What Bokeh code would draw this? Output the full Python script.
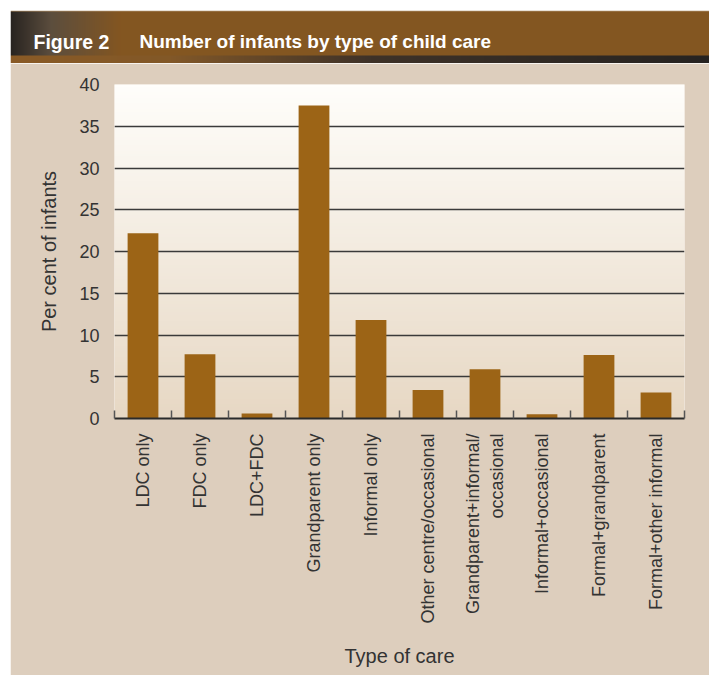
import numpy as np
from bokeh.plotting import figure
from bokeh.models import Range1d, FixedTicker, Label, Spacer
from bokeh.layouts import column, row
from bokeh.embed import file_html
from bokeh.resources import INLINE

# ---- data ----
categories = ["LDC only", "FDC only", "LDC+FDC", "Grandparent only", "Informal only",
              "Other centre/occasional", "Grandparent+informal/\noccasional",
              "Informal+occasional", "Formal+grandparent", "Formal+other informal"]
percent = [22.2, 7.7, 0.6, 37.5, 11.8, 3.4, 5.9, 0.5, 7.6, 3.1]
y_ticks = [0, 5, 10, 15, 20, 25, 30, 35, 40]
title_num = "Figure 2"
title_text = "Number of infants by type of child care"
x_title = "Type of care"
y_title = "Per cent of infants"

FONT = "Liberation Sans"
BAR = "#9c6416"
PANEL = "#ddcebd"
TXT = "#333333"

# ---- header band ----
HW, HH = 699, 53
cols = np.arange(HW)
def interp_rgb(xs, stops):
    px = [s[0] for s in stops]
    return np.stack([np.interp(xs, px, [s[1][k] for s in stops]) for k in range(3)], axis=-1)

main_band = interp_rgb(cols, [(0, (40, 36, 33)), (40, (92, 78, 62)), (110, (132, 86, 33)), (HW, (131, 86, 34))])
strip_band = interp_rgb(cols, [(0, (138, 91, 38)), (160, (130, 88, 40)), (360, (62, 50, 40)), (HW, (38, 35, 33))])
rgb = np.zeros((HH, HW, 3))
rgb[0] = np.array([168, 135, 95])
rgb[1:45] = main_band[None, :, :]
rgb[45:] = strip_band[None, :, :]
rgba = np.zeros((HH, HW, 4), dtype=np.uint8)
rgba[..., :3] = rgb.astype(np.uint8)
rgba[..., 3] = 255
img = rgba[::-1].copy().view(dtype=np.uint32).reshape((HH, HW))

h = figure(width=HW, height=HH, x_range=Range1d(0, HW), y_range=Range1d(0, HH),
           output_backend="svg", toolbar_location=None, min_border=0)
h.frame_align = False
h.axis.visible = False
h.grid.visible = False
h.outline_line_color = None
h.background_fill_color = "white"
h.border_fill_color = "white"
h.image_rgba(image=[img], x=0, y=0, dw=HW, dh=HH)
h.add_layout(Label(x=23, y=HH - 31, text=title_num, text_color="white", text_font=FONT,
                   text_font_style="bold", text_font_size="19.5px", text_baseline="alphabetic"))
h.add_layout(Label(x=129, y=HH - 31, text=title_text, text_color="white", text_font=FONT,
                   text_font_style="bold", text_font_size="19px", text_baseline="alphabetic"))

# ---- main chart ----
n = len(categories)
xs = [i + 0.5 for i in range(n)]
p = figure(width=699, height=612, x_range=Range1d(0, n), y_range=Range1d(0, 40),
           output_backend="svg", toolbar_location=None,
           min_border_left=104, min_border_right=25, min_border_top=21, min_border_bottom=257)
p.frame_align = False
p.border_fill_color = PANEL
p.background_fill_color = "#efe6da"
p.outline_line_color = None

# plot-area gradient (white top -> beige bottom)
g = np.linspace(0, 1, 120)[:, None]
top = np.array([255, 254, 251]); bot = np.array([231, 216, 196])
grad = np.zeros((120, 1, 4), dtype=np.uint8)
grad[..., :3] = (bot + (top - bot) * g[..., None]).astype(np.uint8)
grad[..., 3] = 255
gimg = grad.view(dtype=np.uint32).reshape((120, 1))
gr = p.image_rgba(image=[gimg], x=0, y=0, dw=n, dh=40)
gr.level = "image"

p.vbar(x=xs, top=percent, width=0.54, fill_color=BAR, line_color=None)

# axes
p.xaxis.ticker = FixedTicker(ticks=xs, minor_ticks=list(range(n + 1)))
p.xaxis.major_label_overrides = {x: c for x, c in zip(xs, categories)}
p.xaxis.major_tick_line_color = None
p.xaxis.minor_tick_line_color = "#555555"
p.xaxis.minor_tick_line_width = 1.5
p.xaxis.minor_tick_in = 8
p.xaxis.minor_tick_out = 0
p.xaxis.axis_line_color = "#2a2a2a"
p.xaxis.axis_line_width = 2
p.xaxis.major_label_orientation = np.pi / 2
p.xaxis.major_label_standoff = 9
p.xaxis.major_label_text_font = FONT
p.xaxis.major_label_text_font_size = "18px"
p.xaxis.major_label_text_color = TXT
p.xaxis.axis_label = x_title
p.xaxis.axis_label_text_font = FONT
p.xaxis.axis_label_text_font_size = "20px"
p.xaxis.axis_label_text_font_style = "normal"
p.xaxis.axis_label_text_color = TXT
p.xaxis.axis_label_standoff = 18
p.xgrid.visible = False

p.yaxis.ticker = FixedTicker(ticks=y_ticks)
p.yaxis.axis_line_color = None
p.yaxis.major_tick_line_color = None
p.yaxis.minor_tick_line_color = None
p.yaxis.major_label_standoff = 9
p.yaxis.major_label_text_font = FONT
p.yaxis.major_label_text_font_size = "18px"
p.yaxis.major_label_text_color = TXT
p.yaxis.axis_label = y_title
p.yaxis.axis_label_text_font = FONT
p.yaxis.axis_label_text_font_size = "20px"
p.yaxis.axis_label_text_font_style = "normal"
p.yaxis.axis_label_text_color = TXT
p.yaxis.axis_label_standoff = 16
p.ygrid.ticker = FixedTicker(ticks=y_ticks)
p.ygrid.grid_line_color = "#3a3a3a"
p.ygrid.grid_line_width = 1.5

layout = column(Spacer(width=10, height=10), row(Spacer(width=10, height=665), column(h, p)))
open("out.html", "w").write(file_html(layout, INLINE))
